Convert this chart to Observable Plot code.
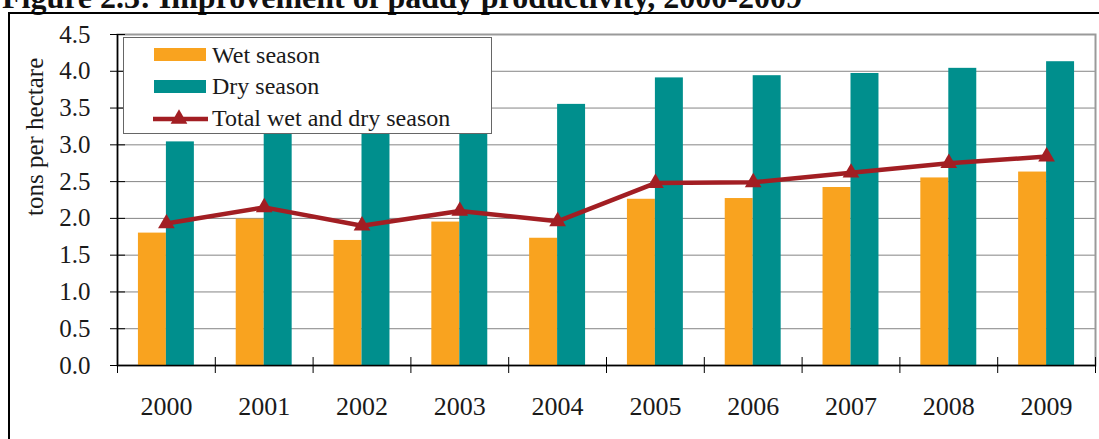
<!DOCTYPE html>
<html>
<head>
<meta charset="utf-8">
<script src="https://cdn.jsdelivr.net/npm/d3@7"></script>
<script src="https://cdn.jsdelivr.net/npm/@observablehq/plot@0.6"></script>
<style>
  html, body { margin: 0; padding: 0; background: #fff; overflow: hidden; }
  #wrap { position: relative; width: 1099px; height: 439px; overflow: hidden; font-family: "Liberation Serif", "Times New Roman", serif; }
  #title { position: absolute; left: 2px; top: -19px; font-size: 32px; line-height: 32px; font-weight: bold; color: #111; white-space: nowrap; }
  #box { position: absolute; left: 8px; top: 12px; width: 1200px; height: 600px; border-left: 2.5px solid #000; border-top: 2px solid #000; }
  #chart { position: absolute; left: 0; top: 0; }
  #legend { position: absolute; left: 123px; top: 37px; width: 367px; height: 95px; background: #fff; border: 1.5px solid #666; }
</style>
</head>
<body>
<div id="wrap">
  <div id="title">Figure 2.3: Improvement of paddy productivity, 2000-2009</div>
  <div id="box"></div>
  <div id="chart"></div>
  <div id="legend"></div>
</div>
<script>
// ---- data ----
const years = [2000, 2001, 2002, 2003, 2004, 2005, 2006, 2007, 2008, 2009];
const wetSeason = [1.80, 1.99, 1.70, 1.95, 1.73, 2.26, 2.27, 2.42, 2.55, 2.63];
const drySeason = [3.04, 3.35, 3.30, 3.38, 3.55, 3.91, 3.94, 3.97, 4.04, 4.13];
const totalSeason = [1.93, 2.15, 1.90, 2.10, 1.96, 2.48, 2.49, 2.62, 2.75, 2.84];
const yTicks = [0, 0.5, 1.0, 1.5, 2.0, 2.5, 3.0, 3.5, 4.0, 4.5];
const seriesNames = ["Wet season", "Dry season", "Total wet and dry season"];
const titleText = "Figure 2.3: Improvement of paddy productivity, 2000-2009";
const yLabel = "tons per hectare";

// ---- styles ----
const ORANGE = "#F9A31F";
const TEAL = "#008F8D";
const RED = "#A21E23";
const barFrac = 0.286; // fraction of a year slot per bar

const wetRows = years.map((y, i) => ({year: y, value: wetSeason[i]}));
const dryRows = years.map((y, i) => ({year: y, value: drySeason[i]}));
const totalRows = years.map((y, i) => ({year: y, value: totalSeason[i]}));
const boundaries = [years[0] - 0.5, ...years.map(y => y + 0.5)];

const chart = Plot.plot({
  width: 1099,
  height: 439,
  marginLeft: 117,
  marginRight: 4,
  marginTop: 34,
  marginBottom: 74,
  x: {domain: [years[0] - 0.5, years[years.length - 1] + 0.5]},
  y: {domain: [0, 4.5]},
  style: {fontFamily: "'Liberation Serif', serif", fontSize: "25px", color: "#1a1a1a", background: "transparent"},
  marks: [
    Plot.gridY(yTicks, {stroke: "#858585", strokeOpacity: 1, strokeWidth: 1}),
    Plot.frame({stroke: "#9a9a9a", strokeWidth: 2}),
    Plot.rectY(wetRows, {x1: d => d.year - barFrac, x2: d => d.year, y1: 0, y2: "value", fill: ORANGE}),
    Plot.rectY(dryRows, {x1: d => d.year, x2: d => d.year + barFrac, y1: 0, y2: "value", fill: TEAL}),
    Plot.ruleY([0], {stroke: "#000", strokeWidth: 1.5}),
    Plot.ruleX([boundaries[0]], {stroke: "#000", strokeWidth: 1.5}),
    Plot.axisY(yTicks, {tickFormat: d3.format(".1f"), tickSize: 7, tickPadding: 20, fontSize: 25, label: null, stroke: "#000"}),
    Plot.axisY(yTicks, {tickSize: 8, dx: 8, tickFormat: () => "", label: null, stroke: "#000"}),
    Plot.axisX(boundaries, {tickSize: 16, dy: -8, tickFormat: () => "", label: null, stroke: "#000"}),
    Plot.axisX(years, {tickSize: 0, tickPadding: 31, tickFormat: d => String(d), fontSize: 26, label: null}),
    Plot.line(totalRows, {x: "year", y: "value", stroke: RED, strokeWidth: 4.5}),
    Plot.dot(totalRows, {x: "year", y: "value", symbol: "triangle", r: 6.2, fill: RED, stroke: "none"}),
    Plot.text([yLabel], {frameAnchor: "left", rotate: -90, dx: -83, dy: 16, fontSize: 25, fill: "#1a1a1a"})
  ]
});
document.getElementById("chart").appendChild(chart);
document.getElementById("title").textContent = titleText;

// ---- legend ----
const lg = d3.select("#legend").append("svg")
  .attr("width", 367).attr("height", 95)
  .style("display", "block")
  .style("font-family", "'Liberation Serif', serif");
const sw = [
  {name: seriesNames[0], color: ORANGE, type: "bar", y: 10, base: 25},
  {name: seriesNames[1], color: TEAL, type: "bar", y: 42, base: 56},
  {name: seriesNames[2], color: RED, type: "line", y: 81, base: 88}
];
sw.forEach(s => {
  if (s.type === "bar") {
    lg.append("rect").attr("x", 30).attr("y", s.y).attr("width", 52).attr("height", 13).attr("fill", s.color);
  } else {
    lg.append("line").attr("x1", 29).attr("x2", 84).attr("y1", s.y).attr("y2", s.y).attr("stroke", s.color).attr("stroke-width", 4.5);
    lg.append("path").attr("d", d3.symbol(d3.symbolTriangle, 6.2 * 6.2 * Math.PI)()).attr("transform", `translate(55,${s.y})`).attr("fill", s.color);
  }
  lg.append("text").attr("x", 88).attr("y", s.base).attr("font-size", 24).attr("fill", "#1a1a1a").text(s.name);
});
</script>
</body>
</html>
